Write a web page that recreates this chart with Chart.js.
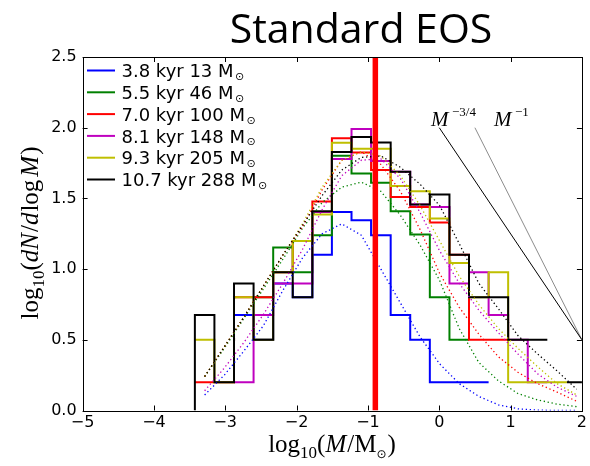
<!DOCTYPE html>
<html><head><meta charset="utf-8">
<script src="https://cdn.jsdelivr.net/npm/chart.js@4"></script>
<style>html,body{margin:0;padding:0;background:#fff}#wrap{width:590px;height:466px}canvas{display:block}</style>
</head><body>
<div id="wrap"><canvas id="c" width="590" height="466"></canvas></div>
<script>
// ---------------- data ----------------
const binEdges = [-3.426,-3.152,-2.877,-2.603,-2.328,-2.054,-1.779,-1.505,-1.230,-0.956,-0.681,-0.407,-0.132,0.143,0.417,0.692,0.966,1.241,1.515,1.790,2.064];
const binCenters = [-3.289,-3.014,-2.740,-2.465,-2.191,-1.916,-1.642,-1.367,-1.093,-0.818,-0.544,-0.269,0.005,0.280,0.554,0.829,1.103,1.378,1.652,1.927];

const seriesTimes  = ["3.8","5.5","7.0","8.1","9.3","10.7"];
const seriesMasses = ["13","46","100","148","205","288"];

// histogram values, log10(dN/dlogM), one per bin (null = empty bin)
const histBlue    = [null,null,0.676,0.500,0.898,0.801,1.102,1.403,1.345,1.240,0.676,0.500,0.199,0.199,0.199,null,null,null,null,null];
const histGreen   = [null,null,null,0.801,1.153,0.977,1.240,1.801,1.676,1.610,1.410,1.245,0.801,0.500,null,null,null,null,null,null];
const histRed     = [0.199,0.199,0.801,0.801,0.977,1.199,1.478,1.925,1.825,1.700,1.510,1.440,1.330,1.102,0.500,0.500,null,null,null,null];
const histMagenta = [null,null,0.199,0.676,0.898,0.898,1.403,1.779,1.991,1.765,1.688,1.457,1.440,0.898,0.977,0.676,0.500,0.199,null,null];
const histYellow  = [0.500,0.199,0.801,0.500,0.977,1.199,1.387,1.893,1.851,1.851,1.588,1.551,1.358,1.044,0.801,0.977,0.199,0.199,0.199,null];
const histBlack   = [0.676,0.199,0.898,0.500,0.977,0.801,1.410,1.829,1.935,1.895,1.688,1.457,1.528,1.102,0.801,0.801,0.500,0.500,null,0.199];

// fitted curves (dotted), sampled at bin centres
const fitBlue    = [0.11,0.25,0.42,0.60,0.85,1.08,1.25,1.32,1.24,1.00,0.76,0.52,0.33,0.19,0.10,0.04,0.012,0.003,0.0,0.0];
const fitGreen   = [0.24,0.44,0.65,0.86,1.07,1.29,1.47,1.58,1.615,1.55,1.38,1.17,0.92,0.58,0.34,0.21,0.12,0.075,0.045,0.027];
const fitRed     = [0.24,0.45,0.66,0.88,1.10,1.30,1.56,1.77,1.83,1.74,1.55,1.28,0.97,0.73,0.54,0.38,0.27,0.19,0.13,0.065];
const fitMagenta = [0.14,0.30,0.48,0.68,0.90,1.14,1.42,1.66,1.77,1.78,1.64,1.40,1.13,0.90,0.71,0.55,0.40,0.26,0.165,0.10];
const fitYellow  = [0.24,0.45,0.66,0.88,1.10,1.32,1.58,1.77,1.83,1.80,1.66,1.45,1.20,0.95,0.75,0.58,0.44,0.31,0.19,0.11];
const fitBlack   = [0.24,0.45,0.66,0.88,1.10,1.31,1.52,1.70,1.79,1.80,1.72,1.60,1.45,1.18,0.90,0.72,0.53,0.40,0.28,0.15];

// reference power laws and EOS marker
const powerLaw34X = [0.0, 2.0], powerLaw34Y = [2.0, 0.5];
const powerLaw1X  = [0.5, 2.0], powerLaw1Y  = [2.0, 0.5];
const eosX = -0.896;

const xTicks = [-5,-4,-3,-2,-1,0,1,2];
const yTicks = [0.0,0.5,1.0,1.5,2.0,2.5];

// ---------------- styling ----------------
const colors = ['#0000ff','#008000','#ff0000','#bf00bf','#bfbf00','#000000'];
const hists = [histBlue,histGreen,histRed,histMagenta,histYellow,histBlack];
const fits  = [fitBlue,fitGreen,fitRed,fitMagenta,fitYellow,fitBlack];
const fromBase = [false,false,false,false,false,true];

function stepPoints(vals, base){
  const pts=[];
  for(let k=0;k<vals.length;k++){
    const v=vals[k]; if(v===null) continue;
    const prev = k>0?vals[k-1]:null;
    if(prev===null){
      if(pts.length) pts.push({x:binEdges[k],y:null});
      if(base && k===0) pts.push({x:binEdges[k],y:0});
    }
    pts.push({x:binEdges[k],y:v});
    const next = k<vals.length-1?vals[k+1]:null;
    if(next===null) pts.push({x:binEdges[k+1],y:v});
  }
  return pts;
}

const datasets=[];
datasets.push({label:'eos',data:[{x:eosX,y:0},{x:eosX,y:2.5}],borderColor:'#ff0000',borderWidth:5.5,pointRadius:0,order:0,clip:0,borderCapStyle:'butt'});
for(let i=0;i<6;i++){
  datasets.push({label:'fit'+i,data:binCenters.map((x,k)=>({x,y:fits[i][k]})),borderColor:colors[i],borderWidth:1.3,borderDash:[1.3,2.7],pointRadius:0,tension:0,order:1+(5-i),clip:0});
}
for(let i=0;i<6;i++){
  datasets.push({label:'hist'+i,data:stepPoints(hists[i],fromBase[i]),borderColor:colors[i],borderWidth:2,pointRadius:0,stepped:true,spanGaps:false,order:10+(5-i),clip:0,borderJoinStyle:'miter',borderCapStyle:'butt'});
}
datasets.push({label:'pl34',data:powerLaw34X.map((x,k)=>({x,y:powerLaw34Y[k]})),borderColor:'#000000',borderWidth:1,pointRadius:0,order:20,clip:0});
datasets.push({label:'pl1',data:powerLaw1X.map((x,k)=>({x,y:powerLaw1Y[k]})),borderColor:'#8c8c8c',borderWidth:1,pointRadius:0,order:21,clip:0});

function fmtMinus(v){ return v<0 ? '\u2212'+Math.abs(v) : String(v); }

function drawRich(ctx, segs, x, y){
  let w=0; segs.forEach(s=>{ctx.font=s.f; s.w=ctx.measureText(s.t).width; w+=s.w+(s.gap||0);});
  let cx=x-w/2;
  segs.forEach(s=>{ctx.font=s.f; ctx.fillText(s.t,cx,y+(s.dy||0)); cx+=s.w+(s.gap||0);});
}

const decor = {
  id:'decor',
  afterDraw(chart){
    const {ctx, chartArea:a, scales:{x,y}} = chart;
    ctx.save();
    // frame
    ctx.strokeStyle='#000'; ctx.lineWidth=1;
    ctx.strokeRect(Math.round(a.left)+0.5, Math.round(a.top)+0.5, Math.round(a.right)-Math.round(a.left), Math.round(a.bottom)-Math.round(a.top));
    // inward ticks
    ctx.beginPath();
    xTicks.forEach(t=>{const px=Math.round(x.getPixelForValue(t))+0.5; ctx.moveTo(px,a.bottom); ctx.lineTo(px,a.bottom-5); ctx.moveTo(px,a.top); ctx.lineTo(px,a.top+5);});
    yTicks.forEach(t=>{const py=Math.round(y.getPixelForValue(t))+0.5; ctx.moveTo(a.left,py); ctx.lineTo(a.left+5,py); ctx.moveTo(a.right,py); ctx.lineTo(a.right-5,py);});
    ctx.stroke();
    ctx.fillStyle='#000'; ctx.textBaseline='alphabetic';
    // title
    ctx.font='41px "Open Sans"'; ctx.textAlign='center';
    ctx.fillText('Standard EOS', 361, 43);
    ctx.textAlign='left';
    // legend
    for(let i=0;i<6;i++){
      const cy = 70.5 + 21.8*i;
      ctx.strokeStyle=colors[i]; ctx.lineWidth=2; ctx.beginPath(); ctx.moveTo(87,cy); ctx.lineTo(115,cy); ctx.stroke();
      ctx.font='18px "DejaVu Sans"';
      const txt = seriesTimes[i]+' kyr '+seriesMasses[i]+' M';
      ctx.fillText(txt, 121.5, cy+6.6);
      const w = ctx.measureText(txt).width;
      ctx.font='11px "DejaVu Sans"';
      ctx.fillText('\u2299', 121.5+w+1.5, cy+9.5);
    }
    // power-law labels
    const ser='"Liberation Serif"';
    ctx.font='italic 21px '+ser; ctx.fillText('M',431,126);
    ctx.font='13px '+ser; ctx.fillText('\u22123/4',452,116);
    ctx.font='italic 21px '+ser; ctx.fillText('M',494,126);
    ctx.font='13px '+ser; ctx.fillText('\u22121',515,116);
    // axis labels
    const F=25, S=17;
    drawRich(ctx,[
      {t:'log',f:F+'px '+ser},{t:'10',f:S+'px '+ser,dy:6},{t:'(',f:F+'px '+ser},
      {t:'M',f:'italic '+F+'px '+ser,gap:1},{t:'/',f:F+'px '+ser},{t:'M',f:F+'px '+ser},
      {t:'\u2299',f:'12px "DejaVu Sans"',dy:6,gap:1},{t:')',f:F+'px '+ser}], 332, 452);
    ctx.save(); ctx.translate(38,233); ctx.rotate(-Math.PI/2);
    drawRich(ctx,[
      {t:'log',f:F+'px '+ser},{t:'10',f:S+'px '+ser,dy:6},{t:'(',f:F+'px '+ser},
      {t:'dN',f:'italic '+F+'px '+ser,gap:1},{t:'/',f:F+'px '+ser},{t:'d',f:'italic '+F+'px '+ser,gap:1},
      {t:'log',f:F+'px '+ser,gap:3},{t:'M',f:'italic '+F+'px '+ser,gap:1},{t:')',f:F+'px '+ser}], 0, 0);
    ctx.restore();
    ctx.restore();
  }
};

new Chart(document.getElementById('c'),{
  type:'line',
  data:{datasets},
  options:{
    responsive:false, devicePixelRatio:1, animation:false,
    layout:{padding:{top:57,right:7.5,left:0,bottom:0}},
    plugins:{legend:{display:false},tooltip:{enabled:false},title:{display:false}},
    scales:{
      x:{type:'linear',min:-5,max:2,
        afterFit(s){s.height=55.5;},
        afterBuildTicks(s){s.ticks=xTicks.map(v=>({value:v}));},
        ticks:{color:'#000',font:{family:'"DejaVu Sans"',size:16},padding:3,maxRotation:0,callback:v=>fmtMinus(v)},
        grid:{display:false,drawTicks:false,tickLength:0},border:{display:false}},
      y:{type:'linear',min:0,max:2.5,
        afterFit(s){s.width=82.6;},
        afterBuildTicks(s){s.ticks=yTicks.map(v=>({value:v}));},
        ticks:{color:'#000',font:{family:'"DejaVu Sans"',size:16},padding:6,callback:v=>v.toFixed(1)},
        grid:{display:false,drawTicks:false,tickLength:0},border:{display:false}}
    }
  },
  plugins:[decor]
});
</script>
</body></html>
